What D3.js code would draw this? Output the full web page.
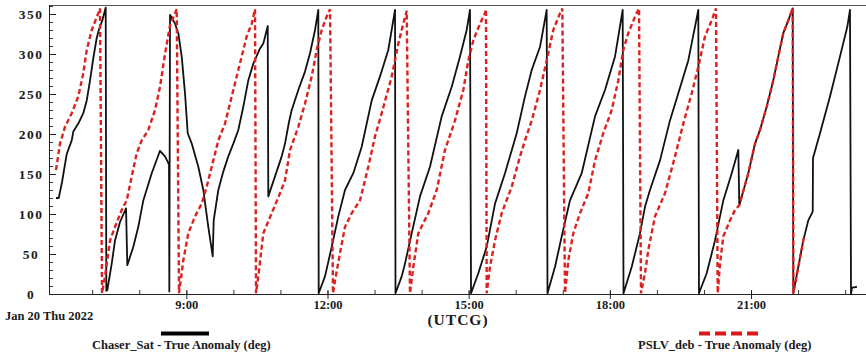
<!DOCTYPE html>
<html>
<head>
<meta charset="utf-8">
<script src="https://cdn.jsdelivr.net/npm/d3@7"></script>
<style>
  html, body { margin: 0; padding: 0; background: #fff; }
  svg { display: block; }
  text { font-family: "Liberation Serif", "Times New Roman", serif; font-weight: bold; fill: #1a1a1a; }
</style>
</head>
<body>
<svg id="chart" width="866" height="354"></svg>
<script>
// ---- data (hours UTC on Jan 20 2022, true anomaly in deg) ----
const dateLabel = "Jan 20 Thu 2022";
const axisTitle = "(UTCG)";
const seriesNames = ["Chaser_Sat - True Anomaly (deg)", "PSLV_deb - True Anomaly (deg)"];
const yTicks = [0, 50, 100, 150, 200, 250, 300, 350];
const xTickHours = [9, 12, 15, 18, 21];

const chaserHours = [6.231,6.289,6.359,6.459,6.565,6.599,6.705,6.811,6.884,6.954,7.024,7.096,7.145,7.215,7.287,7.300,7.321,7.415,7.485,7.591,7.719,7.746,7.874,7.980,8.086,8.265,8.441,8.547,8.632,8.639,8.654,8.760,8.830,8.902,8.972,9.030,9.115,9.255,9.361,9.467,9.561,9.582,9.680,9.786,9.892,9.999,10.105,10.211,10.317,10.424,10.566,10.636,10.730,10.742,10.885,11.027,11.097,11.182,11.240,11.380,11.522,11.629,11.735,11.805,11.813,11.947,12.090,12.230,12.372,12.549,12.727,12.940,13.116,13.292,13.435,13.445,13.577,13.647,13.775,13.966,14.178,14.427,14.640,14.816,14.958,15.028,15.050,15.205,15.383,15.560,15.772,16.021,16.197,16.340,16.516,16.658,16.675,16.835,16.977,17.153,17.402,17.685,17.897,18.110,18.273,18.290,18.465,18.641,18.747,18.853,19.066,19.278,19.455,19.667,19.880,19.894,20.058,20.235,20.411,20.590,20.730,20.751,20.942,21.085,21.191,21.333,21.473,21.580,21.686,21.792,21.886,21.899,22.005,22.111,22.217,22.311,22.317,22.466,22.678,22.891,23.046,23.103,23.125,23.146,23.252];
const chaserAnomaly = [120,120,140,175,192,203,213,226,242,267,295,320,331,342,358,4,5,38,67,90,107,36,59,84,117,151,179,172,162,3,349,338,326,297,251,201,188,159,130,84,47,92,130,153,172,188,205,234,267,288,307,313,335,122,147,172,188,215,230,255,278,301,330,355,1,22,59,97,130,151,184,242,272,305,355,1,22,38,72,122,159,222,259,297,330,355,1,26,59,113,151,201,247,280,309,355,1,34,72,117,151,222,255,297,355,1,34,76,109,130,167,217,251,292,355,1,26,67,117,151,180,111,151,188,205,234,267,297,326,342,357,1,34,67,92,103,170,201,247,297,334,355,0,8,9];

const debHours = [6.231,6.316,6.422,6.565,6.705,6.811,6.884,6.990,7.130,7.166,7.209,7.272,7.379,7.485,7.627,7.734,7.840,7.946,8.052,8.193,8.335,8.441,8.547,8.654,8.796,8.845,8.936,9.042,9.185,9.327,9.433,9.540,9.680,9.822,9.965,10.105,10.283,10.390,10.460,10.481,10.530,10.636,10.815,10.991,11.097,11.204,11.380,11.522,11.665,11.771,11.877,11.983,12.054,12.117,12.160,12.266,12.372,12.515,12.691,12.867,13.010,13.152,13.365,13.505,13.611,13.683,13.753,13.824,13.930,14.142,14.321,14.497,14.710,14.886,14.992,15.099,15.241,15.347,15.368,15.383,15.453,15.560,15.702,15.915,16.091,16.197,16.340,16.516,16.658,16.798,16.941,16.990,17.047,17.117,17.224,17.366,17.542,17.685,17.861,18.040,18.180,18.286,18.392,18.535,18.620,18.662,18.747,18.817,18.960,19.172,19.385,19.561,19.740,19.880,20.022,20.164,20.256,20.292,20.341,20.411,20.553,20.660,20.751,20.942,21.085,21.191,21.333,21.473,21.580,21.686,21.792,21.886,21.899,22.005,22.111,22.130];
const debAnomaly = [155,188,209,226,247,276,305,330,351,357,1,22,67,84,105,117,147,176,192,205,230,259,300,336,356,1,42,76,97,113,134,159,192,213,247,280,322,338,356,1,22,76,101,126,142,180,209,238,272,305,330,347,356,1,17,51,84,101,117,159,197,226,272,313,338,354,1,34,76,101,130,180,217,255,292,317,338,351,356,1,34,67,101,134,172,192,217,255,292,330,351,357,1,42,76,101,126,167,201,230,267,305,326,347,357,1,26,55,97,126,172,213,251,284,322,342,357,1,38,72,92,105,111,151,188,205,234,267,297,326,342,357,1,34,67,72];

// ---- drawing ----
const toDate = h => new Date(Date.UTC(2022, 0, 20) + h * 3600e3);
const svg = d3.select("#chart");
const mLeft = 49, mRight = 865, mTop = 5, mBottom = 294;

const x = d3.scaleUtc().domain([toDate(6.082), toDate(23.422)]).range([mLeft, mRight]);
const y = d3.scaleLinear().domain([0, 361.25]).range([mBottom, mTop]);

const fontFam = '"Liberation Serif", "Times New Roman", serif';

// frame top line
svg.append("line").attr("x1", mLeft).attr("x2", 866).attr("y1", mTop + 0.5).attr("y2", mTop + 0.5)
  .attr("stroke", "#555").attr("stroke-width", 1);

// y minor ticks
const gyMinor = svg.append("g").attr("transform", `translate(${mLeft},0)`)
  .call(d3.axisLeft(y).tickValues(d3.range(0, 361, 10)).tickSize(-4).tickFormat(""));
gyMinor.select(".domain").remove();
gyMinor.selectAll("line").attr("stroke", "#333");

// y major
const gy = svg.append("g").attr("transform", `translate(${mLeft},0)`)
  .call(d3.axisLeft(y).tickValues(yTicks).tickSize(-7).tickPadding(5).tickSizeOuter(0));
gy.select(".domain").attr("stroke", "#222").attr("d", `M0.5,${mTop}V${mBottom}`);
gy.selectAll("line").attr("stroke", "#222");
gy.selectAll("text").attr("font-size", 13.5).attr("x", -18).attr("text-anchor", "middle")
  .style("letter-spacing", "1.5px")
  .style("font-family", fontFam).style("font-weight", "bold").attr("fill", "#1a1a1a");

// x minor hourly ticks (inward)
const gxMinor = svg.append("g").attr("transform", `translate(0,${mBottom})`)
  .call(d3.axisBottom(x).ticks(d3.utcHour.every(1)).tickSize(-4).tickFormat(""));
gxMinor.select(".domain").remove();
gxMinor.selectAll("line").attr("stroke", "#333");

// x major
const gx = svg.append("g").attr("transform", `translate(0,${mBottom})`)
  .call(d3.axisBottom(x).tickValues(xTickHours.map(toDate)).tickSize(5).tickPadding(1)
    .tickFormat(d3.utcFormat("%-H:%M")).tickSizeOuter(0));
gx.select(".domain").attr("stroke", "#222").attr("d", `M${mLeft},0.5H866`);
gx.selectAll("line").attr("stroke", "#222").attr("y1", -3);
gx.selectAll("text").attr("font-size", 12.5)
  .style("font-family", fontFam).style("font-weight", "bold").attr("fill", "#1a1a1a");

svg.append("text").attr("x", 5).attr("y", 320).attr("font-size", 12.5).text(dateLabel);
svg.append("text").attr("x", 458).attr("y", 325).attr("font-size", 15.5)
  .style("letter-spacing", "1px").attr("text-anchor", "middle").text(axisTitle);

// series
const line = d3.line().x(d => x(toDate(d[0]))).y(d => y(d[1]));
svg.append("path").datum(d3.zip(chaserHours, chaserAnomaly))
  .attr("d", line).attr("fill", "none").attr("stroke", "#111").attr("stroke-width", 1.8)
  .attr("stroke-linejoin", "round");
svg.append("path").datum(d3.zip(debHours, debAnomaly))
  .attr("d", line).attr("fill", "none").attr("stroke", "#dd2020").attr("stroke-width", 2.4)
  .attr("stroke-dasharray", "5,3");

// legend
svg.append("line").attr("x1", 161).attr("x2", 209).attr("y1", 333.5).attr("y2", 333.5)
  .attr("stroke", "#000").attr("stroke-width", 4);
svg.append("text").attr("x", 92).attr("y", 349).attr("font-size", 12.5).text(seriesNames[0]);
svg.append("line").attr("x1", 699).attr("x2", 762).attr("y1", 333.5).attr("y2", 333.5)
  .attr("stroke", "#dd1a1a").attr("stroke-width", 4).attr("stroke-dasharray", "11,5");
svg.append("text").attr("x", 638).attr("y", 349).attr("font-size", 12.5).text(seriesNames[1]);
</script>
</body>
</html>
